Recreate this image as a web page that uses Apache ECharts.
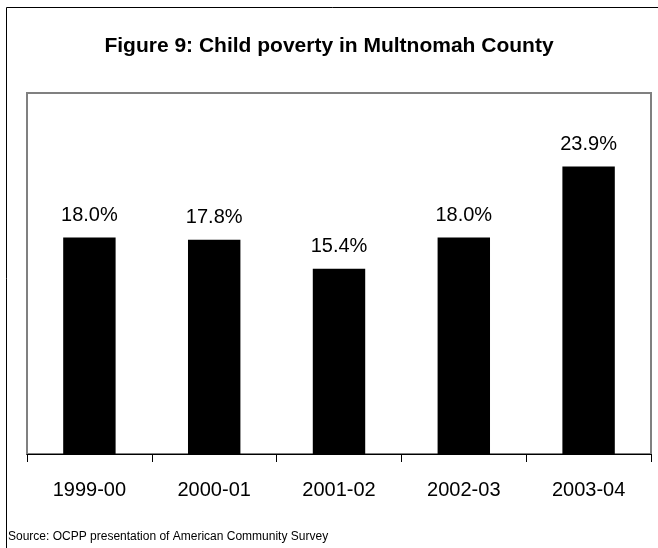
<!DOCTYPE html>
<html>
<head>
<meta charset="utf-8">
<script src="https://cdn.jsdelivr.net/npm/echarts@6/dist/echarts.min.js"></script>
<style>html,body{margin:0;padding:0;background:#fff}#c{width:658px;height:548px}</style>
</head>
<body>
<div id="c"></div>
<script>
var categories = ['1999-00', '2000-01', '2001-02', '2002-03', '2003-04'];
var values = [18.0, 17.8, 15.4, 18.0, 23.9];
var titleText = 'Figure 9: Child poverty in Multnomah County';
var sourceText = 'Source: OCPP presentation of American Community Survey';

var chart = echarts.init(document.getElementById('c'), null, {renderer: 'canvas'});
chart.setOption({
  animation: false,
  backgroundColor: '#fff',
  title: {
    text: titleText,
    left: 'center',
    top: 31,
    textStyle: {fontFamily: 'Liberation Sans, Arial, sans-serif', fontSize: 21, fontWeight: 'bold', color: '#000'}
  },
  graphic: [
    {type: 'rect', shape: {x: 6.5, y: 7.5, width: 700, height: 600}, style: {fill: 'none', stroke: '#000', lineWidth: 1}, z: 0},
    {type: 'text', left: 8, top: 531, style: {text: sourceText, fontFamily: 'Liberation Sans, Arial, sans-serif', fontSize: 12, fill: '#000'}}
  ],
  grid: {left: 27, right: 7, top: 93, bottom: 94, show: true, borderColor: '#808080', borderWidth: 2, backgroundColor: '#fff'},
  xAxis: {
    type: 'category',
    data: categories,
    boundaryGap: true,
    axisLine: {lineStyle: {color: '#000', width: 1}},
    axisTick: {show: true, length: 8, lineStyle: {color: '#000'}},
    axisLabel: {fontFamily: 'Liberation Sans, Arial, sans-serif', fontSize: 20, color: '#000', margin: 26}
  },
  yAxis: {type: 'value', min: 0, max: 30, show: false, splitLine: {show: false}},
  series: [{
    type: 'bar',
    data: values,
    barWidth: '42%',
    itemStyle: {color: '#000'},
    label: {
      show: true, position: 'top', distance: 12,
      fontFamily: 'Liberation Sans, Arial, sans-serif', fontSize: 20, color: '#000',
      formatter: function (p) { return p.value.toFixed(1) + '%'; }
    }
  }]
});
</script>
</body>
</html>
